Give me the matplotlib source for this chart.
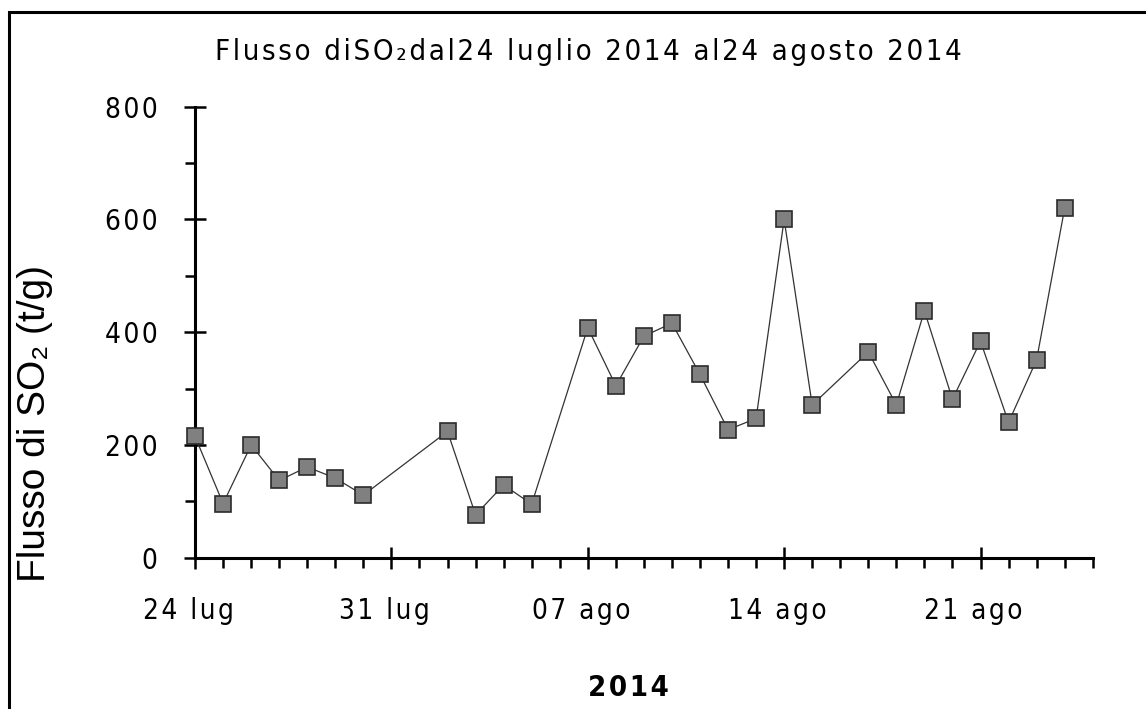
import os

import numpy as np
import matplotlib

matplotlib.use("Agg")
import matplotlib.pyplot as plt
import matplotlib.dates as mdates
import matplotlib.transforms as mtransforms
from matplotlib import font_manager
from matplotlib.font_manager import FontProperties
from matplotlib.patches import Rectangle

# SO2 flux readings (t/g), one per measured day
dates = np.array([
    "2014-07-24", "2014-07-25", "2014-07-26", "2014-07-27", "2014-07-28",
    "2014-07-29", "2014-07-30", "2014-08-02", "2014-08-03", "2014-08-04",
    "2014-08-05", "2014-08-07", "2014-08-08", "2014-08-09", "2014-08-10",
    "2014-08-11", "2014-08-12", "2014-08-13", "2014-08-14", "2014-08-15",
    "2014-08-17", "2014-08-18", "2014-08-19", "2014-08-20", "2014-08-21",
    "2014-08-22", "2014-08-23", "2014-08-24",
], dtype="datetime64[D]")
flux = [215, 96, 200, 137, 161, 141, 111, 224, 76, 129,
        95, 408, 305, 393, 416, 325, 227, 247, 600, 271,
        365, 271, 438, 281, 384, 240, 351, 620]

x_ticks = np.array(["2014-07-24", "2014-07-31", "2014-08-07", "2014-08-14", "2014-08-21"],
                   dtype="datetime64[D]")
x_labels = ["24 lug", "31 lug", "07 ago", "14 ago", "21 ago"]
y_ticks = [0, 200, 400, 600, 800]
x_range = np.array(["2014-07-24", "2014-08-25"], dtype="datetime64[D]")

title = "Flusso diSO\u2082dal24 luglio 2014 al24 agosto 2014"
ylabel = "Flusso di SO\u2082 (t/g)"
year = "2014"


def find_narrow(bold=False):
    """Look for an installed condensed/narrow face (file name based)."""
    keys = ["notosansextracondensed", "liberationsansnarrow", "dejavusanscondensed",
            "notosanscondensed", "robotocondensed", "opensanscondensed",
            "notosanssemicondensed"]
    want = (700, "bold") if bold else (400, "normal", "regular")
    for key in keys:
        for f in font_manager.fontManager.ttflist:
            fn = os.path.basename(f.fname).lower().replace("-", "").replace("_", "")
            if fn.startswith(key) and f.weight in want and f.style == "normal":
                return f.fname
    return None


reg_file, bold_file = find_narrow(), find_narrow(bold=True)
SEP = "\u200a"  # hair space: gives the letter-spaced look without getting too wide
if reg_file:
    def fp(size, bold=False):
        path = bold_file if (bold and bold_file) else reg_file
        return FontProperties(fname=path, size=size,
                              weight="bold" if bold and not bold_file else "normal")
else:
    def fp(size, bold=False):
        return FontProperties(family=["Liberation Sans", "DejaVu Sans"], size=size * 0.85,
                              weight="bold" if bold else "normal")


def spaced(s):
    """Letter-spaced text, like the old chart's tick/title font."""
    return SEP.join(s)


fig = plt.figure(figsize=(11.46, 7.09), dpi=100)
fig.patch.set_facecolor("white")
ax = fig.add_axes([0.1702, 0.2134, 0.7833, 0.6361])

ax.plot(dates, flux, color="#333333", lw=0.9, marker="s", ms=11.5,
        mfc="#808080", mec="#2b2b2b", mew=1.2, clip_on=False, zorder=3)

ax.set_xlim(x_range[0], x_range[1])
ax.set_ylim(0, 800)

tick_fp = fp(20)
ax.set_xticks(x_ticks)
ax.set_xticklabels([spaced(l) for l in x_labels], fontproperties=tick_fp)
ax.xaxis.set_minor_locator(mdates.DayLocator())
ax.set_yticks(y_ticks)
ax.set_yticklabels([spaced(str(v)) for v in y_ticks], fontproperties=tick_fp)
ax.set_yticks(np.arange(100, 800, 200), minor=True)

for side in ("top", "right"):
    ax.spines[side].set_visible(False)
for side in ("left", "bottom"):
    ax.spines[side].set_linewidth(2.2)

ax.tick_params(which="major", direction="inout", length=16, width=1.8)
ax.tick_params(which="minor", direction="out", length=7.2, width=1.8)
ax.tick_params(axis="y", which="major", pad=19)
ax.tick_params(axis="x", which="major", pad=20)

# the date labels sit a little left of their ticks in the original
shift = mtransforms.ScaledTranslation(-7 / 100, 0, fig.dpi_scale_trans)
for lab in ax.get_xticklabels():
    lab.set_transform(lab.get_transform() + shift)

ax.patch.set_alpha(0)

fig.text(0.513, 0.9267, spaced(title), ha="center", va="center", fontproperties=fp(21))
fig.text(0.548, 0.0296, spaced(year), ha="center", va="center", fontproperties=fp(21, bold=True))
fig.text(0.0305, 0.403, ylabel, ha="center", va="center", rotation=90,
         fontsize=28, family=["Liberation Sans", "DejaVu Sans"])

# outer frame of the original chart (right/bottom edges fall outside)
fig.add_artist(Rectangle((9 / 1146, -0.2), 1.2, 1.2 - 12 / 709,
                         transform=fig.transFigure, fill=False,
                         lw=2.2, ec="black", clip_on=False))

fig.savefig("out.png", dpi=100)
